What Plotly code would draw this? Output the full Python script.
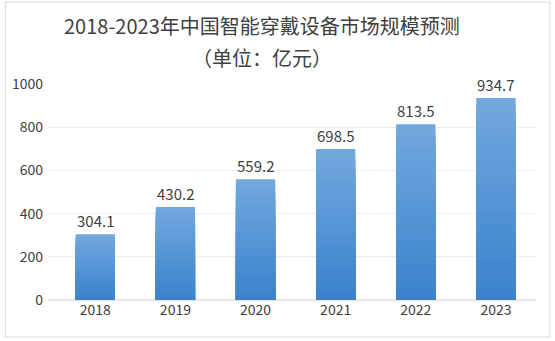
import plotly.graph_objects as go

years = ["2018", "2019", "2020", "2021", "2022", "2023"]
market_size = [304.1, 430.2, 559.2, 698.5, 813.5, 934.7]
y_ticks = [0, 200, 400, 600, 800, 1000]

title_line1 = "2018-2023年中国智能穿戴设备市场规模预测"
title_line2 = "（单位：亿元）"

FONT = "Noto Sans CJK SC, Microsoft YaHei, sans-serif"
TOP_RGB = (114, 168, 222)
BOTTOM_RGB = (58, 131, 204)
STEPS = 30

PLOT_TOP, PLOT_H = 84, 216   # plot area in pixels
PLOT_L, PLOT_W = 45, 491


def py(pixel_y):
    """Convert a pixel row to paper y."""
    return (PLOT_TOP + PLOT_H - pixel_y) / PLOT_H


def px(pixel_x):
    """Convert a pixel column to paper x."""
    return (pixel_x - PLOT_L) / PLOT_W


fig = go.Figure()

# vertical gradient: overlaid bars, each a fraction of the full value,
# getting darker toward the base
for i in range(STEPS):
    frac = 1 - i / STEPS
    t = i / (STEPS - 1)
    r, g, b = (round(TOP_RGB[k] + (BOTTOM_RGB[k] - TOP_RGB[k]) * t) for k in range(3))
    fig.add_trace(go.Bar(
        x=years,
        y=[v * frac for v in market_size],
        marker=dict(color=f"rgb({r},{g},{b})", line=dict(width=0)),
        width=0.49,
        hoverinfo="skip",
        showlegend=False,
    ))

label_font = dict(family=FONT, size=15, color="#404040")
title_font = dict(family=FONT, size=20, color="#404040")

# value labels above each bar (category axis positions are serial indices)
value_labels = [
    dict(text=f"{v:.1f}", x=idx, y=v, xref="x", yref="y",
         xanchor="center", yanchor="middle", yshift=14,
         showarrow=False, font=label_font)
    for idx, v in enumerate(market_size)
]

title_labels = [
    dict(text=title_line1, xref="paper", yref="paper",
         x=px(260), y=py(26), xanchor="center", yanchor="middle",
         showarrow=False, font=title_font),
    dict(text=title_line2, xref="paper", yref="paper",
         x=px(260), y=py(58), xanchor="center", yanchor="middle",
         showarrow=False, font=title_font),
]

fig.update_layout(
    barmode="overlay",
    width=555,
    height=341,
    margin=dict(l=PLOT_L, r=555 - PLOT_L - PLOT_W, t=PLOT_TOP, b=341 - PLOT_TOP - PLOT_H),
    paper_bgcolor="white",
    plot_bgcolor="white",
    font=dict(family=FONT, color="#595959"),
    xaxis=dict(
        type="category",
        range=[-0.59, 5.5],
        showgrid=False,
        showline=False,
        ticks="",
        tickfont=dict(family=FONT, size=14, color="#404040"),
    ),
    yaxis=dict(
        range=[0, 1000],
        tickvals=y_ticks,
        showgrid=True,
        gridcolor="#eeeeee",
        gridwidth=1,
        zeroline=True,
        zerolinecolor="#e6e6e6",
        showline=False,
        ticks="",
        ticklabelstandoff=4,
        tickfont=dict(family=FONT, size=14, color="#404040"),
    ),
    annotations=value_labels + title_labels,
    shapes=[dict(
        type="rect", xref="paper", yref="paper",
        x0=px(2), x1=px(550),
        y0=py(337), y1=py(2),
        line=dict(color="#d9d9d9", width=1),
        fillcolor="rgba(0,0,0,0)",
        layer="below",
    )],
)

fig.write_html("out.html")
